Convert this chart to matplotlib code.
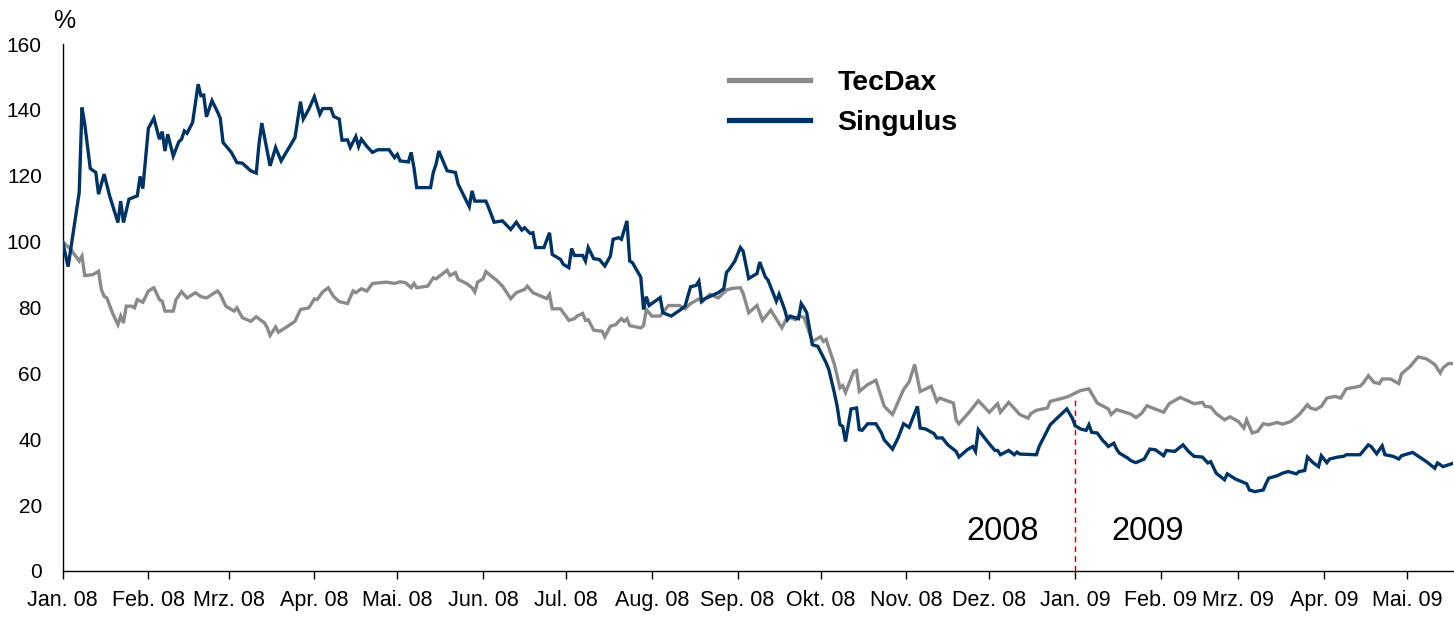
import matplotlib
matplotlib.use("Agg")
import matplotlib.pyplot as plt
from matplotlib import font_manager
from matplotlib.lines import Line2D
import pandas as pd

# ---------------- data (days since 2008-01-01, index values in %) ----------------
start_date = "2008-01-01"

singulus_days = [0, 2, 6, 7, 8, 10, 12, 13, 15, 17, 20, 21, 22, 24, 27, 28, 29, 31, 33, 35,
                 36, 37, 38, 40, 42, 43, 44, 45, 47, 49, 50, 51, 52, 54, 56, 57, 58, 61, 63, 65,
                 68, 70, 71, 72, 75, 77, 79, 84, 86, 87, 89, 91, 93, 94, 97, 98, 100, 101, 103, 104,
                 106, 107, 108, 110, 112, 114, 118, 120, 121, 122, 125, 126, 127, 128, 133, 134, 135, 136, 137, 139,
                 142, 143, 147, 148, 149, 153, 154, 156, 159, 162, 164, 166, 167, 169, 170, 171, 174, 176, 177, 180,
                 181, 183, 184, 185, 188, 189, 190, 192, 194, 196, 198, 199, 201, 202, 204, 205, 206, 209, 210, 211,
                 212, 216, 217, 220, 223, 225, 227, 229, 230, 231, 232, 237, 239, 240, 241, 243, 245, 246, 248, 251,
                 252, 254, 255, 258, 259, 261, 262, 263, 266, 267, 268, 269, 271, 273, 276, 277, 279, 280, 281, 282,
                 283, 285, 287, 288, 289, 291, 294, 296, 297, 300, 302, 304, 306, 309, 310, 312, 315, 316, 318, 320,
                 323, 324, 327, 329, 330, 331, 333, 335, 337, 338, 339, 342, 344, 345, 346, 352, 353, 357, 363, 365,
                 366, 368, 370, 371, 372, 374, 376, 377, 378, 380, 381, 382, 385, 386, 387, 388, 391, 393, 395, 398,
                 399, 402, 405, 407, 409, 412, 414, 415, 417, 420, 421, 424, 428, 429, 431, 434, 435, 436, 439, 441,
                 443, 446, 447, 449, 450, 452, 454, 455, 457, 458, 461, 463, 464, 469, 472, 473, 475, 477, 478, 481,
                 483, 484, 488, 491, 493, 496, 497, 499, 503]
singulus_vals = [100, 92.4, 114.9, 140.7, 135.7, 122.2, 121, 114.4, 120.5, 113.9, 105.8, 112.3, 105.8, 112.9, 113.9, 119.8, 116.1, 134.4, 137.5, 131.1,
                 133.4, 127.5, 132.6, 126, 130.3, 131.1, 133.6, 132.9, 136.2, 147.8, 144.3, 144.5, 137.9, 142.8, 139.4, 137.4, 130.1, 127.1, 124, 123.8,
                 121.5, 120.8, 129.6, 136, 123, 128.6, 124.5, 131.6, 142.5, 137.2, 140.2, 144, 138.7, 140.4, 140.4, 138, 137.2, 130.8, 130.9, 128.6,
                 131.9, 128.9, 131.1, 128.9, 127.1, 127.9, 127.9, 125.5, 126.5, 124.5, 124.2, 127.1, 122.5, 116.4, 116.4, 121, 123.5, 127.5, 125.5, 121.5,
                 121, 117.4, 110.6, 115.4, 112.3, 112.3, 110.3, 105.9, 106.3, 103.7, 105.9, 103.5, 104.2, 102.5, 102.7, 98.2, 98.2, 102.7, 96.1, 94.6,
                 93.1, 92.1, 97.9, 95.8, 95.8, 94.1, 98.2, 94.8, 94.6, 92.6, 95.6, 100.7, 101.2, 100.7, 106.3, 94.1, 93.6, 89.2, 79.4, 83.3,
                 80.6, 83, 78.4, 77.4, 79.1, 80.4, 86.3, 86.7, 88, 81.9, 82.6, 84.5, 85.7, 90.7, 91.6, 94.1, 98.2, 97.1, 88.8, 90.3,
                 93.8, 89.3, 88.3, 81.9, 84, 79.4, 76.3, 77.4, 76.6, 81.2, 79.9, 78.4, 68.7, 68.2, 63.2, 61.1, 54, 50, 44.4, 43.9,
                 39.3, 49.2, 49.5, 42.9, 42.7, 44.7, 44.7, 41.9, 39.8, 37, 40.4, 44.7, 43.6, 50, 43.4, 43.1, 41.7, 40.4, 40.4, 38.3,
                 36.3, 34.6, 36.8, 37.8, 36.3, 42.9, 40.7, 38.6, 36.6, 36.6, 35.3, 36.6, 35.3, 36.1, 35.5, 35.3, 37.8, 44.4, 49.2, 46.4,
                 44.1, 43.1, 42.7, 44.4, 42.1, 41.9, 39.6, 38.8, 37.8, 38.8, 37, 35.8, 34.3, 33.6, 33.2, 32.9, 34, 37, 36.8, 35,
                 36.6, 36.3, 38.3, 36.3, 34.8, 34.6, 32.8, 33.2, 29.7, 27.7, 29.5, 27.9, 26.5, 24.6, 24.1, 24.6, 26.5, 28.2, 28.9, 29.7,
                 30.2, 29.5, 30.2, 30.5, 34.6, 32.9, 31.7, 35, 32.9, 34, 34.6, 34.8, 35.3, 35.3, 38.3, 37.8, 35.6, 38, 35.3, 34.8,
                 34, 35, 36, 34.3, 33.2, 31.2, 32.8, 31.7, 32.8]

tecdax_days = [0, 3, 6, 7, 8, 11, 13, 14, 15, 16, 18, 20, 21, 22, 23, 25, 26, 27, 29, 31,
               33, 35, 36, 37, 40, 41, 43, 45, 48, 50, 52, 56, 57, 59, 62, 63, 65, 68, 70, 73,
               74, 75, 77, 78, 81, 84, 86, 89, 91, 92, 94, 96, 98, 100, 103, 105, 106, 108, 110, 112,
               117, 120, 122, 124, 126, 127, 128, 132, 134, 135, 139, 140, 142, 143, 146, 148, 149, 150, 152, 153,
               155, 157, 159, 162, 164, 167, 168, 170, 173, 175, 176, 177, 180, 183, 185, 186, 188, 189, 190, 192,
               195, 196, 198, 200, 201, 202, 203, 204, 205, 209, 210, 211, 213, 216, 219, 223, 225, 227, 230, 231,
               234, 237, 240, 242, 245, 246, 248, 251, 253, 256, 260, 262, 265, 266, 268, 271, 274, 275, 276, 279,
               281, 282, 283, 286, 287, 288, 291, 294, 297, 300, 304, 306, 308, 310, 314, 316, 317, 322, 323, 324,
               328, 331, 335, 338, 339, 342, 346, 349, 350, 352, 356, 357, 363, 368, 371, 374, 378, 379, 381, 386,
               388, 390, 392, 393, 398, 399, 400, 404, 409, 412, 413, 415, 417, 420, 422, 425, 427, 428, 430, 432,
               434, 436, 439, 441, 444, 447, 450, 451, 453, 455, 457, 460, 462, 464, 469, 470, 472, 474, 476, 477,
               480, 483, 484, 487, 490, 493, 496, 498, 499, 501, 503]
tecdax_vals = [100, 97.6, 94.1, 95.6, 89.7, 90, 91, 85.5, 83.4, 82.9, 78.4, 74.8, 77.4, 75.3, 80.4, 80.4, 79.9, 82.4, 81.6, 85,
               86, 82.4, 81.9, 78.9, 78.9, 82.4, 84.8, 82.9, 84.5, 83.3, 82.9, 85, 84, 80.4, 78.9, 79.9, 76.9, 75.8, 77.2, 75.3,
               73.8, 71.5, 74.1, 72.5, 74.1, 75.8, 79.4, 79.9, 82.6, 82.4, 84.7, 86, 83.3, 81.8, 81.2, 85, 84.5, 85.7, 85, 87.3,
               87.7, 87.3, 87.8, 87.5, 86, 87.3, 86, 86.5, 89, 88.7, 91.3, 89.7, 90.6, 88.5, 87.3, 86, 84.7, 87.7, 88.7, 90.9,
               89.5, 88.2, 86.5, 82.7, 84.5, 85.5, 86.5, 84.5, 83.4, 82.7, 84, 79.6, 79.6, 76.1, 76.6, 77.4, 78.2, 76.1, 76.3, 73.1,
               72.8, 71.1, 74.3, 74.8, 75.8, 76.6, 75.8, 76.6, 74.5, 73.8, 74.5, 79.4, 77.4, 77.4, 80.6, 80.6, 79.6, 81.2, 82.6, 81.6,
               84, 82.9, 85.3, 85.8, 86, 84.3, 78.4, 80.6, 76.1, 79.2, 73.8, 77.2, 76.3, 77.4, 77, 69.7, 71.1, 69.7, 70.3, 62.7,
               55.6, 56.3, 54.2, 60.6, 60.9, 54.5, 56.6, 57.9, 50, 47.5, 55.1, 57.4, 62.7, 54.5, 56.1, 51.5, 52.5, 51, 45.9, 44.7,
               48.5, 51.7, 48.2, 50.8, 48.2, 51.2, 47.5, 46.4, 47.8, 48.8, 49.5, 51.5, 52.8, 54.8, 55.3, 51, 49.2, 47.5, 49, 47.7,
               46.6, 47.8, 50.2, 49.8, 48.2, 49.5, 50.8, 52.7, 50.8, 51.2, 50, 49.8, 47.8, 45.9, 46.8, 45.4, 43.4, 45.9, 41.9, 42.4,
               44.7, 44.4, 45.1, 44.6, 45.4, 47.5, 50.5, 49.5, 49, 50, 52.5, 53, 52.5, 55.3, 56.1, 56.9, 59.3, 57.3, 56.9, 58.3,
               58.3, 56.9, 59.9, 62, 65, 64.4, 62.7, 60.1, 61.7, 63, 63]

series_names = ["TecDax", "Singulus"]
series_colors = ["#8a8a8a", "#003366"]

month_labels = ["Jan. 08", "Feb. 08", "Mrz. 08", "Apr. 08", "Mai. 08", "Jun. 08", "Jul. 08",
                "Aug. 08", "Sep. 08", "Okt. 08", "Nov. 08", "Dez. 08", "Jan. 09", "Feb. 09",
                "Mrz. 09", "Apr. 09", "Mai. 09"]
y_ticks = [0, 20, 40, 60, 80, 100, 120, 140, 160]
year_split = "2009-01-01"
year_labels = ["2008", "2009"]

# ---------------- figure ----------------
plt.rcParams['font.family'] = ['Liberation Sans', 'DejaVu Sans']

installed = {f.name for f in font_manager.fontManager.ttflist}
if "Liberation Sans Narrow" in installed:
    xtick_family, xtick_size = ["Liberation Sans Narrow", "Liberation Sans"], 18
else:
    xtick_family, xtick_size = ["Liberation Sans", "DejaVu Sans"], 15.5

fig = plt.figure(figsize=(14.54, 6.17), dpi=100)
ax = fig.add_axes([62.6 / 1454, 46 / 617, (1453 - 62.6) / 1454, (571 - 44) / 617])

t0 = pd.Timestamp(start_date)
tec_x = t0 + pd.to_timedelta(tecdax_days, unit="D")
sin_x = t0 + pd.to_timedelta(singulus_days, unit="D")

ax.plot(tec_x, tecdax_vals, color=series_colors[0], lw=2.4, solid_joinstyle="miter", zorder=3)
ax.plot(sin_x, singulus_vals, color=series_colors[1], lw=2.4, solid_joinstyle="miter", zorder=4)

ax.set_xlim(t0, t0 + pd.Timedelta(days=502.6))
ax.set_ylim(0, 160)

month_ticks = pd.date_range(start_date, periods=len(month_labels), freq="MS")
ax.set_xticks(month_ticks)
ax.set_xticklabels(month_labels, family=xtick_family, fontsize=xtick_size)
ax.set_yticks(y_ticks)
ax.set_yticklabels([str(v) for v in y_ticks])

ax.tick_params(axis="x", direction="out", length=6, width=1, colors="black", pad=8)
ax.tick_params(axis="y", length=0, labelsize=15, pad=15)

for s in ["top", "right"]:
    ax.spines[s].set_visible(False)
for s in ["left", "bottom"]:
    ax.spines[s].set_linewidth(1)
    ax.spines[s].set_color("black")

# year separator
split = pd.Timestamp(year_split)
ax.vlines(split, 0, 52, colors="#cc0000", linestyles=(0, (4, 3)), lw=1, zorder=2)
ax.text(split - pd.Timedelta(days=13), 12, year_labels[0], fontsize=23.5, ha="right", va="center")
ax.text(split + pd.Timedelta(days=13), 12, year_labels[1], fontsize=23.5, ha="left", va="center")

# percent label
fig.text(63.8 / 1454, 1 - 20.5 / 617, "%", fontsize=18, ha="center", va="center")

# legend
handles = [Line2D([], [], color=c, lw=3.8) for c in series_colors]
leg = ax.legend(handles, series_names, loc="upper left",
                bbox_to_anchor=((729 - 62.6) / (1453 - 62.6), (571 - 70) / (571 - 44)),
                frameon=False, prop={"weight": "bold", "size": 20.5},
                handlelength=2.85, handletextpad=0.95, labelspacing=0.5, borderpad=0,
                borderaxespad=0)

fig.savefig("out.png", dpi=100)
